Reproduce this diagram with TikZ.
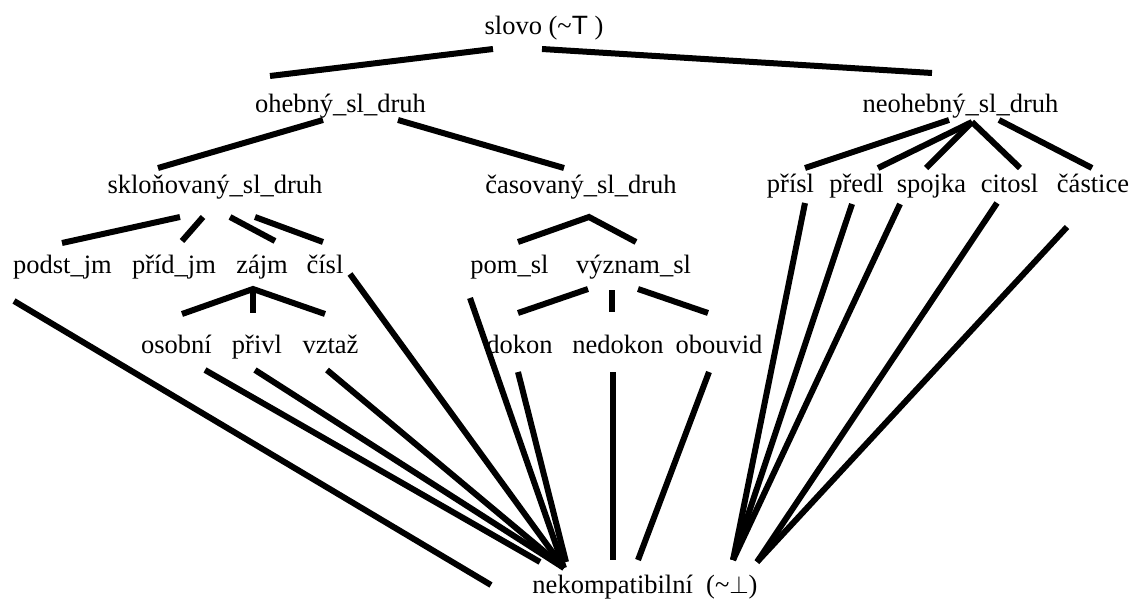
\documentclass[tikz,border=0pt]{standalone}
\usepackage{fontspec}
\setmainfont{Liberation Serif}
\newfontfamily\topsans{Liberation Sans}
\begin{document}
\begin{tikzpicture}[x=1pt,y=-1pt,
  lbl/.style={anchor=base, inner sep=0pt, font=\fontsize{26.5}{30}\selectfont},
  edge/.style={line width=6pt, line cap=butt}]
\useasboundingbox (0,0) rectangle (1132,599);

% --- labels (placed by base line) ---
\node[lbl] (slovo)    at (544,35)   {slovo (\textasciitilde{\topsans T} )};
\node[lbl] (ohebny)   at (340.5,113) {ohebný\_sl\_druh};
\node[lbl] (neohebny) at (960.5,113) {neohebný\_sl\_druh};
\node[lbl] (sklon)    at (215,193)  {skloňovaný\_sl\_druh};
\node[lbl] (casov)    at (581,193)  {časovaný\_sl\_druh};
\node[lbl] (prisl)    at (790.5,192) {přísl};
\node[lbl] (predl)    at (856.5,192) {předl};
\node[lbl] (spojka)   at (931.5,192) {spojka};
\node[lbl] (citosl)   at (1009.5,192) {citosl};
\node[lbl] (castice)  at (1093,192) {částice};
\node[lbl] (podst)    at (62.5,273) {podst\_jm};
\node[lbl] (prid)     at (174,273)  {příd\_jm};
\node[lbl] (zajm)     at (262,273)  {zájm};
\node[lbl] (cisl)     at (325,273)  {čísl};
\node[lbl] (pomsl)    at (509.5,273) {pom\_sl};
\node[lbl] (vyznam)   at (633.5,273) {význam\_sl};
\node[lbl] (osobni)   at (176.5,353) {osobní};
\node[lbl] (privl)    at (257,353)  {přivl};
\node[lbl] (vztaz)    at (330.5,353) {vztaž};
\node[lbl] (dokon)    at (519.5,353) {dokon};
\node[lbl] (nedokon)  at (618,353)  {nedokon};
\node[lbl] (obouvid)  at (719,353)  {obouvid};
\node[lbl] (nekomp)   at (645,593)  {nekompatibilní\ \ (\textasciitilde$\perp$)};

% --- end points of the strokes ---
\coordinate (s-l) at (493,49);   \coordinate (o-t) at (270,76);
\coordinate (s-r) at (542,49);   \coordinate (n-t) at (932,73);

\coordinate (o-l) at (323,120);  \coordinate (sk-t) at (158,168);
\coordinate (o-r) at (398,120);  \coordinate (cs-t) at (564,168);

\coordinate (sk-1) at (180,217); \coordinate (po-t) at (62,243);
\coordinate (sk-2) at (203,217); \coordinate (pr-t) at (182,241);
\coordinate (sk-3) at (230,217); \coordinate (za-t) at (275,241);
\coordinate (sk-4) at (255,217); \coordinate (ci-t) at (323,242);

\coordinate (cs-a) at (589,217);
\coordinate (pm-t) at (518,242); \coordinate (vy-t) at (636,242);

\coordinate (za-a) at (253,289);
\coordinate (os-t) at (182,314); \coordinate (pv-t) at (253,313); \coordinate (vz-t) at (325,314);

\coordinate (vy-l) at (588,289); \coordinate (dk-t) at (518,313);
\coordinate (vy-m) at (612,290); \coordinate (nd-t) at (612,312);
\coordinate (vy-r) at (638,289); \coordinate (ob-t) at (708,313);

\coordinate (n-l) at (949,120);  \coordinate (pi-t) at (805,168);
\coordinate (n-a) at (972,122);
\coordinate (pd-t) at (878,168); \coordinate (sp-t) at (926,168); \coordinate (ct-t) at (1020,168);
\coordinate (n-r) at (999,120);  \coordinate (ca-t) at (1092,168);

% lower ends of the strokes into the bottom element
\coordinate (po-b) at (14,301);    \coordinate (b-po) at (491,585);
\coordinate (os-b) at (205,370);   \coordinate (b-os) at (540,562);
\coordinate (pv-b) at (255,370);   \coordinate (b-m)  at (564,568);
\coordinate (vz-b) at (327,370);
\coordinate (ci-b) at (350,274);
\coordinate (pm-b) at (470,298);
\coordinate (dk-b) at (518,372);   \coordinate (b-dk) at (566,562);
\coordinate (nd-b) at (613,372);   \coordinate (b-nd) at (613,560);
\coordinate (ob-b) at (709,372);   \coordinate (b-ob) at (638,560);
\coordinate (pi-b) at (805,203);   \coordinate (b-r1) at (733,560);
\coordinate (pd-b) at (852,204);
\coordinate (sp-b) at (900,204);
\coordinate (ct-b) at (997,203);   \coordinate (b-r2) at (757,562);
\coordinate (ca-b) at (1067,227);

% --- strokes ---
\draw[edge] (s-l) -- (o-t);
\draw[edge] (s-r) -- (n-t);
\draw[edge] (o-l) -- (sk-t);
\draw[edge] (o-r) -- (cs-t);
\draw[edge] (sk-1) -- (po-t);
\draw[edge] (sk-2) -- (pr-t);
\draw[edge] (sk-3) -- (za-t);
\draw[edge] (sk-4) -- (ci-t);
\draw[edge] (pm-t) -- (cs-a) -- (vy-t);
\draw[edge] (os-t) -- (za-a) -- (vz-t);
\draw[edge] (za-a) -- (pv-t);
\draw[edge] (vy-l) -- (dk-t);
\draw[edge] (vy-m) -- (nd-t);
\draw[edge] (vy-r) -- (ob-t);
\draw[edge] (n-l) -- (pi-t);
\draw[edge] (n-a) -- (pd-t);
\draw[edge] (n-a) -- (sp-t);
\draw[edge] (n-a) -- (ct-t);
\draw[edge] (n-r) -- (ca-t);

\draw[edge] (po-b) -- (b-po);
\draw[edge] (os-b) -- (b-os);
\draw[edge] (pv-b) -- (b-m);
\draw[edge] (vz-b) -- (b-m);
\draw[edge] (ci-b) -- (b-m);
\draw[edge] (pm-b) -- (b-m);
\draw[edge] (dk-b) -- (b-dk);
\draw[edge] (nd-b) -- (b-nd);
\draw[edge] (ob-b) -- (b-ob);
\draw[edge] (pi-b) -- (b-r1);
\draw[edge] (pd-b) -- (b-r1);
\draw[edge] (sp-b) -- (b-r1);
\draw[edge] (ct-b) -- (b-r2);
\draw[edge] (ca-b) -- (b-r2);
\end{tikzpicture}
\end{document}
